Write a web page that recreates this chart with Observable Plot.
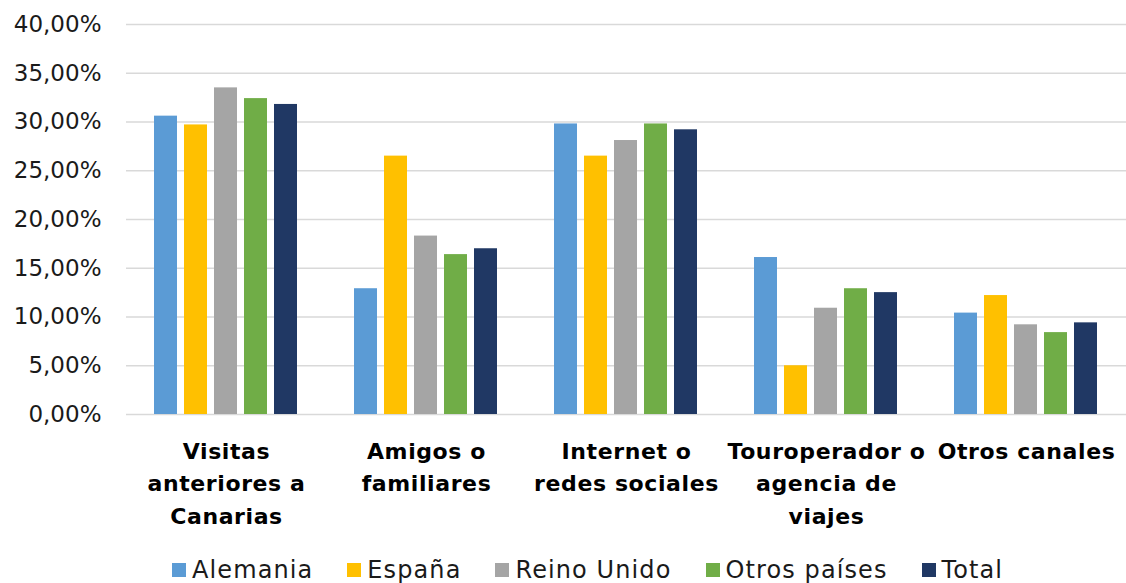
<!DOCTYPE html>
<html>
<head>
<meta charset="utf-8">
<script src="https://cdn.jsdelivr.net/npm/d3@7"></script>
<script src="https://cdn.jsdelivr.net/npm/@observablehq/plot@0.6"></script>
<style>
  html, body { margin: 0; padding: 0; background: #fff; }
  #chart { width: 1126px; }
  #legend { padding-left: 172px; padding-top: 2px; height: 30px; }
  div.lg-swatches { font-family: "DejaVu Sans", sans-serif; font-size: 24px; letter-spacing: 1.1px; color: #1a1a1a; min-height: 30px; margin: 0; }
  div.lg-swatches .lg-swatch { margin-right: 34px; }
  div.lg-swatches .lg-swatch > svg { margin-right: 6px; }
  g.fxlab text { letter-spacing: 0.6px; }
</style>
</head>
<body>
<div id="chart"></div>
<div id="legend"></div>
<script>
const categories = [
  "Visitas anteriores a Canarias",
  "Amigos o familiares",
  "Internet o redes sociales",
  "Touroperador o agencia de viajes",
  "Otros canales"
];
const categoryLabels = [
  "Visitas\nanteriores a\nCanarias",
  "Amigos o\nfamiliares",
  "Internet o\nredes sociales",
  "Touroperador o\nagencia de\nviajes",
  "Otros canales"
];
const series = ["Alemania", "España", "Reino Unido", "Otros países", "Total"];
const colors = ["#5B9BD5", "#FFC000", "#A5A5A5", "#70AD47", "#203864"];

const alemania   = [30.6, 12.9, 29.8, 16.1, 10.4];
const espana     = [29.7, 26.5, 26.5,  5.0, 12.2];
const reinoUnido = [33.5, 18.3, 28.1, 10.9,  9.2];
const otrosPaises= [32.4, 16.4, 29.8, 12.9,  8.4];
const total      = [31.8, 17.0, 29.2, 12.5,  9.4];

const yTicks = [0, 5, 10, 15, 20, 25, 30, 35, 40];

const seriesValues = [alemania, espana, reinoUnido, otrosPaises, total];
const table = [];
categories.forEach((c, i) => {
  series.forEach((s, j) => {
    table.push({category: c, series: s, value: seriesValues[j][i]});
  });
});

const labelOf = new Map(categories.map((c, i) => [c, categoryLabels[i]]));
const fmt = d => d.toFixed(2).replace(".", ",") + "%";

const chart = Plot.plot({
  width: 1126,
  height: 553,
  marginLeft: 125,
  marginRight: 0,
  marginTop: 24,
  marginBottom: 139,
  style: {fontFamily: "DejaVu Sans, sans-serif", background: "#fff", color: "#1a1a1a"},
  fx: {domain: categories, padding: 0, label: null},
  x: {domain: series, paddingInner: 0.2258, paddingOuter: 0.842, axis: null},
  y: {domain: [0, 40], label: null},
  color: {domain: series, range: colors},
  marks: [
    Plot.ruleY(yTicks, {stroke: "#d9d9d9", strokeWidth: 1.5}),
    Plot.barY(table, {fx: "category", x: "series", y: "value", fill: "series"}),
    Plot.axisY({ticks: yTicks, tickFormat: fmt, tickSize: 0, tickPadding: 25, fontSize: 23, label: null, fill: "#1a1a1a"}),
    Plot.axisFx({anchor: "bottom", tickSize: 0, tickPadding: 22, tickFormat: d => labelOf.get(d), fontSize: 22, fontWeight: "bold", lineHeight: 1.46, label: null, fill: "#000", className: "fxlab"})
  ]
});
document.getElementById("chart").appendChild(chart);

const legend = Plot.legend({
  color: {type: "ordinal", domain: series, range: colors},
  swatchSize: 14,
  className: "lg"
});
document.getElementById("legend").appendChild(legend);
</script>
</body>
</html>
